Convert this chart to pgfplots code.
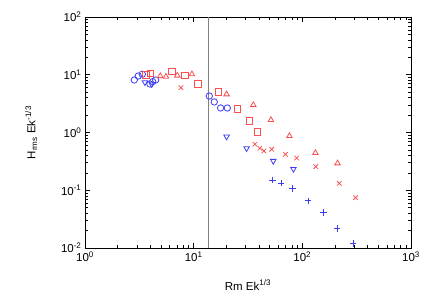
\documentclass[border=0pt]{standalone}
\usepackage{fontspec}
\setmainfont{Liberation Sans}
\usepackage{pgfplots}
\pgfplotsset{compat=1.18}
\definecolor{myred}{RGB}{248,80,80}
\definecolor{myblue}{RGB}{60,60,245}
\begin{document}
\begin{tikzpicture}
\begin{axis}[
  xmode=log, ymode=log,
  scale only axis,
  width=326pt, height=231pt,
  xmin=1, xmax=1000, ymin=0.01, ymax=100,
  xtick={1,10,100,1000},
  xticklabels={10\textsuperscript{0},10\textsuperscript{1},10\textsuperscript{2},10\textsuperscript{3}},
  ytick={0.01,0.1,1,10,100},
  yticklabels={10\textsuperscript{-2},10\textsuperscript{-1},10\textsuperscript{0},10\textsuperscript{1},10\textsuperscript{2}},
  tick label style={font=\fontsize{11.5}{13}\selectfont},
  label style={font=\fontsize{11.5}{13}\selectfont},
  xlabel={Rm Ek\textsuperscript{1/3}},
  ylabel={H\textsubscript{rms} Ek\textsuperscript{-1/3}},
  xlabel style={at={(axis description cs:0.5,-0.16)}, anchor=center},
  ylabel style={at={(axis description cs:-0.165,0.5)}, anchor=center},
  tick align=inside,
  major tick length=5pt, minor tick length=3pt,
  axis line style={line width=0.8pt},
  tick style={line width=0.6pt,black},
  every axis plot/.append style={only marks, mark size=3.2pt, line width=0.8pt},
]
\addplot[gray, no markers, line width=1pt, sharp plot] coordinates {(13.6,0.01) (13.6,100)};
% blue circles
\addplot[myblue, only marks, mark=o] coordinates {
(2.84,8.11) (3.09,9.51) (3.37,10.2) (3.96,6.92) (4.2,7.6) (4.47,8.11)
(13.92,4.28) (15.47,3.38) (17.7,2.66) (20.4,2.66)};
% blue triangles down
\addplot[myblue, only marks, mark=triangle, mark options={rotate=180}] coordinates {
(3.56,7.39) (4.11,6.84) (20.1,0.846) (30.7,0.533) (54.0,0.321) (82.8,0.233)};
% blue plus
\addplot[myblue, only marks, mark=+] coordinates {
(53.1,0.1505) (63.9,0.132) (81.1,0.1072) (112.6,0.0659) (157,0.0415) (209,0.0219) (294,0.01205)};
% red squares
\addplot[myred, only marks, mark=square] coordinates {
(3.62,9.90) (4.02,10.6) (6.28,11.3) (8.32,9.70) (10.95,6.92) (16.9,5.03) (25.2,2.58) (32.5,1.60) (38.5,1.03)};
% red triangles
\addplot[myred, only marks, mark=triangle] coordinates {
(4.93,9.51) (5.56,9.25) (7.07,9.70) (9.64,10.2) (20.1,4.59) (35.4,2.99) (51.4,1.65) (76.1,0.870) (132,0.4416) (211,0.293)};
% red x
\addplot[myred, only marks, mark=x] coordinates {
(7.64,5.97) (36.6,0.625) (40.7,0.533) (44.3,0.479) (52.2,0.512) (69.9,0.419) (88.6,0.362) (133,0.256) (219,0.132) (309,0.0743)};
\end{axis}
\path (current axis.south west) ++(-85pt,-57pt) coordinate (bbA);
\path (current axis.north east) ++(25pt,17pt) coordinate (bbB);
\path (bbA) rectangle (bbB);
\end{tikzpicture}
\end{document}
